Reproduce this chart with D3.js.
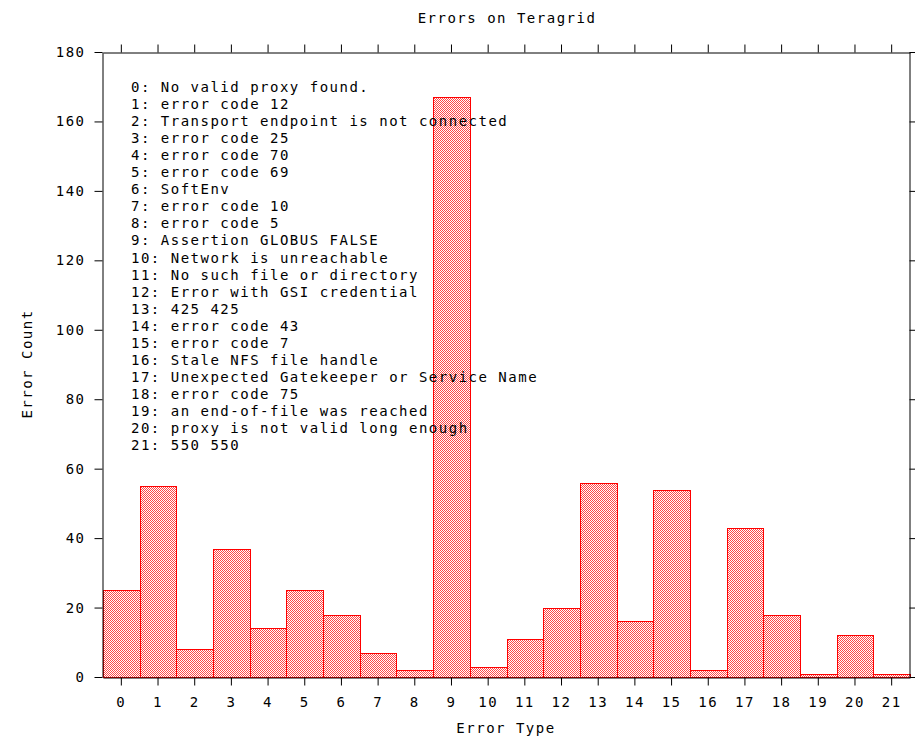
<!DOCTYPE html>
<html>
<head>
<meta charset="utf-8">
<script src="https://cdn.jsdelivr.net/npm/d3@7/dist/d3.min.js"></script>
<style>
  html, body { margin: 0; padding: 0; background: #fff; }
  svg text { font-family: "DejaVu Sans Mono", monospace; font-size: 14px; letter-spacing: 1.5px; fill: #000; }
</style>
</head>
<body>
<svg id="chart" width="915" height="736"></svg>
<script>
const categories = ["0","1","2","3","4","5","6","7","8","9","10","11","12","13","14","15","16","17","18","19","20","21"];
const errorCounts = [25, 55, 8, 37, 14, 25, 18, 7, 2, 167, 3, 11, 20, 56, 16, 54, 2, 43, 18, 1, 12, 1];
const errorNames = [
  "No valid proxy found.",
  "error code 12",
  "Transport endpoint is not connected",
  "error code 25",
  "error code 70",
  "error code 69",
  "SoftEnv",
  "error code 10",
  "error code 5",
  "Assertion GLOBUS FALSE",
  "Network is unreachable",
  "No such file or directory",
  "Error with GSI credential",
  "425 425",
  "error code 43",
  "error code 7",
  "Stale NFS file handle",
  "Unexpected Gatekeeper or Service Name",
  "error code 75",
  "an end-of-file was reached",
  "proxy is not valid long enough",
  "550 550"
];
const yTicks = [0, 20, 40, 60, 80, 100, 120, 140, 160, 180];
const titleText = "Errors on Teragrid";
const xTitle = "Error Type";
const yTitle = "Error Count";

const svg = d3.select("#chart");
const plotLeft = 103, plotRight = 910, plotTop = 52, plotBottom = 677;

const x = d3.scaleBand().domain(categories).range([plotLeft, plotRight]).padding(0);
const y = d3.scaleLinear().domain([0, 180]).range([plotBottom, plotTop]);

// checkered red fill
const defs = svg.append("defs");
const pat = defs.append("pattern")
  .attr("id", "checker").attr("patternUnits", "userSpaceOnUse")
  .attr("width", 2).attr("height", 2);
pat.append("rect").attr("width", 2).attr("height", 2).attr("fill", "#ffffff").attr("shape-rendering", "crispEdges");
pat.append("rect").attr("x", 0).attr("y", 0).attr("width", 1).attr("height", 1).attr("fill", "#ff4848").attr("shape-rendering", "crispEdges");
pat.append("rect").attr("x", 1).attr("y", 1).attr("width", 1).attr("height", 1).attr("fill", "#ff4848").attr("shape-rendering", "crispEdges");

// bars
svg.append("g").selectAll("rect")
  .data(categories)
  .join("rect")
  .attr("x", d => Math.round(x(d)) + 0.5)
  .attr("y", (d, i) => Math.round(y(errorCounts[i])) + 0.5)
  .attr("width", d => Math.round(x(d) + x.bandwidth()) - Math.round(x(d)))
  .attr("height", (d, i) => Math.round(y(0)) - Math.round(y(errorCounts[i])))
  .attr("fill", "url(#checker)")
  .attr("stroke", "#ff0000")
  .attr("stroke-width", 1);

// axes
svg.append("g").attr("transform", `translate(${plotLeft - 0.5},0)`)
  .call(d3.axisLeft(y).tickValues(yTicks).tickSize(8).tickSizeOuter(0).tickPadding(9));
svg.append("g").attr("transform", `translate(${plotRight - 0.5},0)`)
  .call(d3.axisRight(y).tickValues(yTicks).tickSize(8).tickSizeOuter(0).tickFormat(""));
svg.append("g").attr("transform", `translate(0,${plotBottom + 0.5})`)
  .call(d3.axisBottom(x).tickSize(8).tickSizeOuter(0).tickPadding(12));
svg.append("g").attr("transform", `translate(0,${plotTop + 0.5})`)
  .call(d3.axisTop(x).tickSize(8).tickSizeOuter(0).tickFormat(""));

svg.selectAll(".tick line").attr("stroke", "#000");
svg.selectAll(".domain").attr("stroke", "#000");
svg.selectAll(".tick text").style("font-family", "'DejaVu Sans Mono', monospace").style("font-size", "14px").attr("fill", "#000");

// legend text list
svg.append("g").selectAll("text")
  .data(errorNames)
  .join("text")
  .attr("x", 131)
  .attr("y", (d, i) => 92 + i * 17.05)
  .text((d, i) => `${categories[i]}: ${d}`);

// titles
svg.append("text").attr("x", 507).attr("y", 23).attr("text-anchor", "middle").text(titleText);
svg.append("text").attr("x", 506).attr("y", 733).attr("text-anchor", "middle").text(xTitle);
svg.append("text").attr("transform", "translate(32,364) rotate(-90)").attr("text-anchor", "middle").text(yTitle);
</script>
</body>
</html>
